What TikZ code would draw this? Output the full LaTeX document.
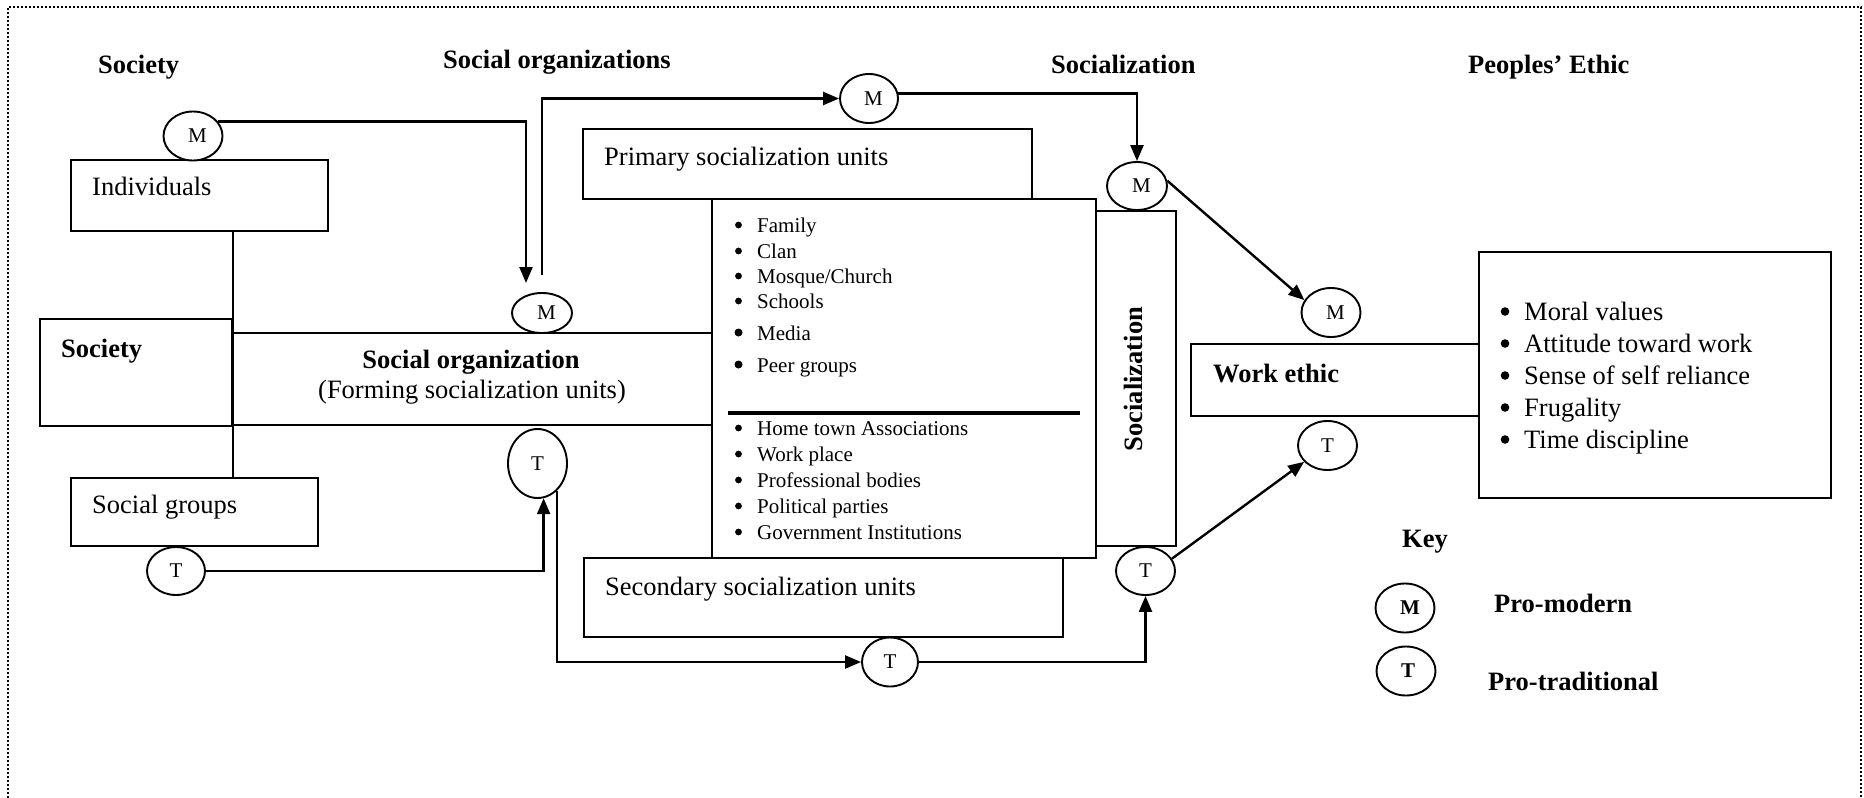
\documentclass[tikz,border=0pt]{standalone}
\usepackage{fontspec}
\setmainfont{Liberation Serif}
\usetikzlibrary{shapes.geometric,arrows.meta}
\begin{document}
\begin{tikzpicture}[x=1pt,y=-1pt,
  big/.style={font=\fontsize{26.5}{30}\selectfont, inner sep=0pt, anchor=base west},
  hd/.style={big, font=\fontsize{26.5}{30}\selectfont\bfseries},
  item/.style={font=\fontsize{21}{24}\selectfont, inner sep=0pt, anchor=base west},
  box/.style={draw, line width=2pt, inner sep=0pt},
  circ/.style={draw, fill=white, ellipse, line width=1.9pt, inner sep=0pt,
    minimum width=59pt, minimum height=49pt, font=\fontsize{21}{24}\selectfont},
  keycirc/.style={circ, font=\fontsize{21}{24}\selectfont\bfseries},
  link/.style={line width=2.4pt},
  arr/.style={link, -{Triangle[length=16pt,width=13pt]}},
  frame/.style={line width=1.6pt, dash pattern=on 1.6pt off 2.4pt}
]
\useasboundingbox (0,0) rectangle (1864,798);

% dotted outer frame
\draw[frame] (8,798) -- (8,7) -- (1861,7) -- (1861,798);

% column headings
\node[hd] (hSoc) at (98,73) {Society};
\node[hd] (hOrg) at (443,68) {Social organizations};
\node[hd] (hSzn) at (1051,73) {Socialization};
\node[hd] (hEth) at (1468,73) {Peoples’ Ethic};

% boxes
\node[box, minimum width=257pt, minimum height=71pt] (ind) at (199.5,195.5) {};
\node[box, minimum width=192pt, minimum height=107pt] (soc) at (136,372.5) {};
\node[box, minimum width=480pt, minimum height=92pt] (sorg) at (472,379) {};
\node[box, minimum width=247pt, minimum height=68pt] (sg) at (194.5,512) {};
\node[box, minimum width=449pt, minimum height=70pt] (prim) at (807.5,164) {};
\node[box, minimum width=384pt, minimum height=359pt] (list) at (904,378.5) {};
\node[box, minimum width=80pt, minimum height=335pt] (szn) at (1136,378.5) {};
\node[box, minimum width=479pt, minimum height=79pt] (sec) at (823.5,597.5) {};
\node[box, minimum width=288pt, minimum height=72pt] (wk) at (1335,380) {};
\node[box, minimum width=352pt, minimum height=246pt] (vals) at (1655,375) {};

% box texts
\node[big] (tInd) at (92,195) {Individuals};
\node[hd] (tSocB) at (61,357) {Society};
\node[hd, anchor=base] (tOrgA) at (471,368) {Social organization};
\node[big, anchor=base] (tOrgB) at (472,398) {(Forming socialization units)};
\node[big] (tSg) at (92,513) {Social groups};
\node[big] (tPrim) at (604,165) {Primary socialization units};
\node[big] (tSec) at (605,595) {Secondary socialization units};
\node[hd, rotate=90, anchor=center] (tSzn) at (1133,379) {Socialization};
\node[hd] (tWk) at (1213,382) {Work ethic};

% socialization units list
\node[item] (i1) at (757,232) {Family};
\node[item] (i2) at (757,258) {Clan};
\node[item] (i3) at (757,283) {Mosque/Church};
\node[item] (i4) at (757,308) {Schools};
\node[item] (i5) at (757,340) {Media};
\node[item] (i6) at (757,372) {Peer groups};
\draw[line width=4pt] (728,413) -- (1080,413);
\node[item] (j1) at (757,435) {Home town Associations};
\node[item] (j2) at (757,461) {Work place};
\node[item] (j3) at (757,487) {Professional bodies};
\node[item] (j4) at (757,513) {Political parties};
\node[item] (j5) at (757,539) {Government Institutions};
\foreach \b in {232,258,283,308,435,461,487,513,539}
  \fill (738.5,{\b-7}) circle (3.4pt);
\foreach \b in {340,372}
  \fill (738.5,{\b-7.5}) circle (4pt);

% work ethic values
\node[big] (v1) at (1524,320) {Moral values};
\node[big] (v2) at (1524,352) {Attitude toward work};
\node[big] (v3) at (1524,384) {Sense of self reliance};
\node[big] (v4) at (1524,416) {Frugality};
\node[big] (v5) at (1524,448) {Time discipline};
\foreach \b in {320,352,384,416,448}
  \fill (1505,{\b-8.5}) circle (4.3pt);

% M / T markers
\newcommand{\mk}{\hspace{9pt}M}
\node[circ] (mInd) at (193,136) {\mk};
\node[circ, minimum width=58pt] (mTop) at (869,98.5) {\mk};
\node[circ, minimum width=60pt, minimum height=40pt] (mOrg) at (542,313) {\mk};
\node[circ, minimum width=60pt, minimum height=48pt] (mSoc) at (1137,186) {\mk};
\node[circ] (mWork) at (1331,312.5) {\mk};
\node[circ, minimum height=69pt] (tOrg) at (537.5,463.5) {T};
\node[circ, minimum width=58pt, minimum height=48pt] (tSG) at (176,571) {T};
\node[circ, minimum width=56pt] (tBot) at (890,662) {T};
\node[circ, minimum width=59pt, minimum height=48pt] (tSoc) at (1145.5,571) {T};
\node[circ] (tWork) at (1327.5,445.5) {T};

% connectors
\draw[line width=1.6pt] (ind.south -| soc.east) -- (sg.north -| soc.east);
\coordinate (a1) at (526,283);
\coordinate (a2) at (542,275);
\draw[arr] (mInd.30) -| (a1);
\draw[arr] (a2) |- (mTop.west);
\draw[arr] (mTop.10) -| (mSoc.north);
\draw[arr] (mSoc.10) -- (mWork.155);
\draw[arr] (tSG.east) -| (tOrg.-80);
\draw[arr] (tOrg.-55) |- (tBot.west);
\draw[arr] (tBot.east) -| (tSoc.south);
\draw[arr] (tSoc.25) -- (tWork.215);

% key
\node[hd] (kKey) at (1402,547) {Key};
\node[keycirc] (kM) at (1405,608) {\raisebox{-4pt}{\hspace{10pt}M}};
\node[keycirc] (kT) at (1406,671) {\raisebox{-2pt}{\hspace{4pt}T}};
\node[hd] (kMt) at (1494,612) {Pro-modern};
\node[hd] (kTt) at (1488,690) {Pro-traditional};
\end{tikzpicture}
\end{document}
